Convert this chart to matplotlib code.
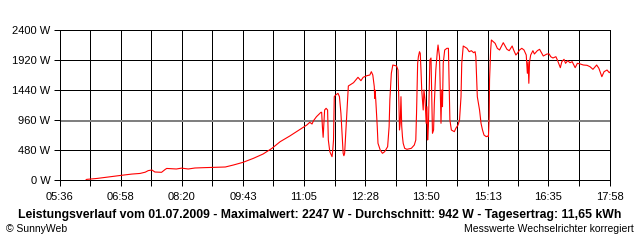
import numpy as np
import matplotlib; matplotlib.use("Agg")
import matplotlib.pyplot as plt

# Leistungsverlauf 01.07.2009, Zeit in Minuten seit 00:00, Leistung in W
T_MIN = [371, 372, 386, 399, 408, 419, 433, 444, 451, 455, 460, 464, 473, 478, 480,
         493, 500, 509, 518, 529, 559, 570, 583, 597, 610, 622, 633, 646, 660, 669,
         673, 676, 678, 682, 688, 689, 690, 691, 692, 693, 695, 697, 698, 700, 703,
         704, 705, 706, 708, 711, 713, 715, 716, 718, 719, 720, 722, 724, 725, 732,
         738, 742, 745, 750, 754, 756, 758, 760, 760.5, 761, 762, 764, 765, 768, 771,
         774, 778, 780, 781, 783, 785, 790, 792, 793, 794, 795, 796, 797, 798, 799,
         801, 804, 810, 814, 816, 817, 818.5, 819.5, 821, 822, 823, 824, 826, 827, 828.5,
         830, 831, 832, 833, 834, 835, 836.5, 837.5, 838.5, 840, 841, 843, 845, 846,
         848, 850, 851, 852, 853, 855, 858, 860, 861, 862, 864, 868, 870, 873, 875,
         877, 878, 880, 885, 888, 891, 894, 896, 897, 899, 902, 904, 906, 908, 911,
         913, 914, 915, 915.5, 917, 918, 923, 926, 929, 934, 939, 942, 946, 948, 951,
         953, 956, 959, 962, 965, 966.5, 967.5, 968.5, 969.5, 971, 974, 976, 980, 983,
         986, 988, 993, 996, 998, 1001, 1005, 1007, 1011, 1013, 1016, 1018, 1021, 1024,
         1027, 1031, 1034, 1038, 1042, 1047, 1051, 1055, 1060, 1063, 1067, 1070, 1074,
         1077, 1078]
WATT = [0, 10, 25, 45, 60, 75, 95, 105, 125, 150, 160, 128, 123, 170, 185,
        176, 190, 176, 192, 197, 208, 240, 283, 347, 416, 507, 613, 704, 811, 880,
        923, 896, 949, 1013, 1083, 1083, 853, 683, 907, 1120, 1147, 1120, 640, 453, 373,
        480, 640, 1333, 1360, 1387, 1333, 1067, 853, 427, 389, 427, 853, 1280, 1504, 1557,
        1643, 1589, 1643, 1669, 1680, 1733, 1680, 1493, 1307, 1440, 1280, 853, 587, 480, 427,
        453, 533, 853, 1280, 1707, 1840, 1824, 1760, 1333, 800, 912, 1333, 864, 693, 587,
        507, 491, 507, 560, 640, 1067, 1867, 1973, 2053, 2027, 1760, 1440, 1120, 1440, 1280,
        907, 1173, 640, 853, 1387, 1920, 1952, 1333, 747, 800, 1227, 1760, 2053, 2160,
        1973, 907, 1440, 1173, 1867, 2080, 2107, 2107, 1493, 960, 800, 773, 827, 880, 960,
        1333, 1867, 2144, 2107, 2053, 2069, 2037, 2053, 1973, 1333, 1120, 907, 800, 720, 693,
        704, 693, 1013, 1600, 2080, 2240, 2187, 2107, 2080, 2197, 2091, 2069, 2144, 2080, 2000,
        2027, 2080, 2107, 2080, 2000, 1707, 1893, 1547, 1893, 2000, 2069, 2016, 2069, 2091,
        2027, 1984, 2016, 2016, 1973, 1952, 1973, 1920, 1797, 1893, 1931, 1867, 1909, 1877,
        1893, 1797, 1867, 1856, 1840, 1835, 1813, 1771, 1840, 1787, 1653, 1733, 1760,
        1717, 1728]
MITTEL = 942
XLABELS = ["05:36", "06:58", "08:20", "09:43", "11:05", "12:28", "13:50", "15:13", "16:35", "17:58"]
YTICKS = [0, 480, 960, 1440, 1920, 2400]
TITEL = ("Leistungsverlauf vom 01.07.2009 - Maximalwert: 2247 W - "
         "Durchschnitt: 942 W - Tagesertrag: 11,65 kWh")

plt.rcParams["font.family"] = ["Liberation Sans", "DejaVu Sans"]

xt = [int(s[:2]) * 60 + int(s[3:]) for s in XLABELS]
xminor = [(a + b) / 2 for a, b in zip(xt[:-1], xt[1:])]

fig = plt.figure(figsize=(6.4, 2.4), dpi=100)
ax = fig.add_axes([60/640, 60/240, 550/640, 150/240])
ax.set_xlim(xt[0], xt[-1]); ax.set_ylim(0, 2400)

ax.set_xticks(xt); ax.set_xticklabels(XLABELS)
ax.set_xticks(xminor, minor=True)
ax.set_yticks(YTICKS); ax.set_yticklabels(["%d W" % v for v in YTICKS])
ax.tick_params(which="both", direction="out", length=4, width=0.72, colors="black",
               labelsize=8, pad=3)
ax.tick_params(axis="x", pad=5)
ax.grid(True, which="both", color="black", lw=0.72)
ax.set_axisbelow(True)
for s in ax.spines.values():
    s.set_linewidth(0.72); s.set_color("black")

ax.axhline(MITTEL, color="#808080", lw=1.44, zorder=2)
ax.plot(T_MIN, WATT, color="red", lw=0.8, zorder=3)

fig.text(0.5, 1 - 215/240, TITEL, ha="center", va="center", fontsize=8.8, fontweight="bold")
fig.text(6/640, 1 - 229/240, "\u00a9 SunnyWeb", ha="left", va="center", fontsize=7.5)
fig.text(634/640, 1 - 229/240, "Messwerte Wechselrichter korregiert", ha="right",
         va="center", fontsize=7.5)

fig.savefig("out.png", dpi=100)
